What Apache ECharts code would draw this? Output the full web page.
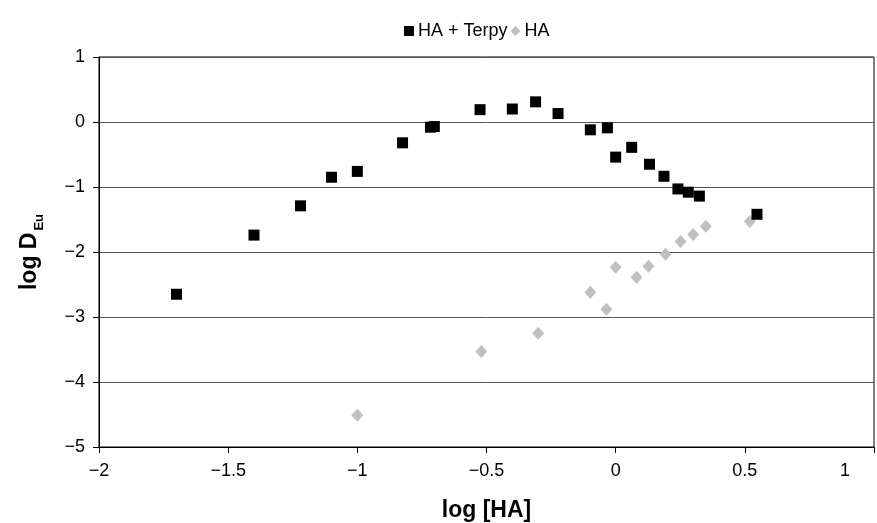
<!DOCTYPE html>
<html>
<head>
<meta charset="utf-8">
<script src="https://cdn.jsdelivr.net/npm/echarts@6/dist/echarts.min.js"></script>
<style>
html,body{margin:0;padding:0;background:#fff;}
#chart{width:877px;height:523px;}
</style>
</head>
<body>
<div id="chart"></div>
<script>
// HA + Terpy series
const terpyX = [-1.70, -1.40, -1.22, -1.10, -1.00, -0.825, -0.717, -0.702, -0.525, -0.40, -0.31, -0.223, -0.098, -0.032, 0.00, 0.062, 0.131, 0.187, 0.241, 0.281, 0.324, 0.547];
const terpyY = [-2.65, -1.74, -1.29, -0.85, -0.76, -0.32, -0.08, -0.07, 0.19, 0.20, 0.31, 0.13, -0.12, -0.09, -0.54, -0.39, -0.65, -0.835, -1.03, -1.08, -1.14, -1.42];
// HA series
const haX = [-1.00, -0.52, -0.30, -0.098, -0.036, 0.00, 0.081, 0.127, 0.193, 0.251, 0.30, 0.349, 0.519];
const haY = [-4.51, -3.53, -3.25, -2.62, -2.88, -2.235, -2.39, -2.22, -2.035, -1.84, -1.73, -1.605, -1.53];
const seriesNames = ['HA + Terpy', 'HA'];
const xTitle = 'log [HA]';
const yTitleMain = 'log D';
const yTitleSub = 'Eu';

const pair = (xs, ys) => xs.map((x, i) => [x, ys[i]]);
const fmtNum = v => String(v).replace('-', '\u2212');
const FONT = 'Liberation Sans, Arial, sans-serif';

const chart = echarts.init(document.getElementById('chart'), null, {renderer: 'canvas'});
chart.setOption({
  animation: false,
  backgroundColor: '#fff',
  textStyle: {fontFamily: FONT},
  legend: {
    data: [
      {name: seriesNames[0], icon: 'rect'},
      {name: seriesNames[1], icon: 'diamond'}
    ],
    left: 399, top: 17,
    itemWidth: 10, itemHeight: 10, itemGap: 3,
    textStyle: {fontSize: 18, color: '#000', fontFamily: FONT, padding: [0, 0, 0, -1]}
  },
  grid: {left: 99, right: 3, top: 57, bottom: 76, outerBoundsMode: 'none', show: true, borderColor: '#000', borderWidth: 1, backgroundColor: '#fff'},
  xAxis: {
    type: 'value', min: -2, max: 1, interval: 0.5,
    name: xTitle, nameLocation: 'middle', nameGap: 52,
    nameTextStyle: {fontSize: 23, fontWeight: 'bold', color: '#000', fontFamily: FONT},
    axisLine: {show: true, onZero: false, lineStyle: {color: '#000', width: 1}},
    axisTick: {show: true, length: 6, lineStyle: {color: '#000'}},
    axisLabel: {
      fontSize: 18, color: '#000', margin: 15, fontFamily: FONT,
      formatter: v => v === 1 ? '{r|1}' : fmtNum(v),
      rich: {r: {fontSize: 18, color: '#000', fontFamily: FONT, padding: [0, 58, 0, 0]}}
    },
    splitLine: {show: false}
  },
  yAxis: {
    type: 'value', min: -5, max: 1, interval: 1,
    name: '{a|' + yTitleMain + '}{b|' + yTitleSub + '}',
    nameLocation: 'middle', nameGap: 52, nameRotate: 90,
    nameTextStyle: {
      rich: {
        a: {fontSize: 23, fontWeight: 'bold', color: '#000', fontFamily: FONT, lineHeight: 34, verticalAlign: 'middle'},
        b: {fontSize: 13, fontWeight: 'bold', color: '#000', fontFamily: FONT, lineHeight: 34, verticalAlign: 'bottom', padding: [0, 0, 1, 2]}
      }
    },
    axisLine: {show: true, onZero: false, lineStyle: {color: '#000', width: 1}},
    axisTick: {show: true, length: 6, lineStyle: {color: '#000'}},
    axisLabel: {fontSize: 18, color: '#000', margin: 14, fontFamily: FONT, formatter: fmtNum},
    splitLine: {show: true, lineStyle: {color: '#555', width: 1}}
  },
  series: [
    {
      name: seriesNames[0], type: 'scatter', symbol: 'rect', symbolSize: 11,
      itemStyle: {color: '#000', opacity: 1},
      data: pair(terpyX, terpyY), z: 3
    },
    {
      name: seriesNames[1], type: 'scatter', symbol: 'diamond', symbolSize: [12, 13],
      itemStyle: {color: '#c0c0c0', opacity: 1},
      data: pair(haX, haY), z: 2
    }
  ]
});
</script>
</body>
</html>
